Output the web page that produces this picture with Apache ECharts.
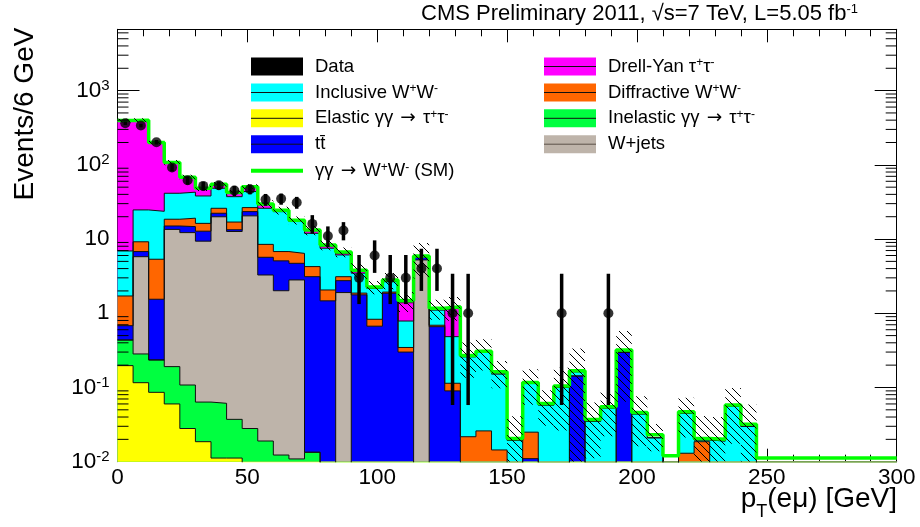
<!DOCTYPE html>
<html><head><meta charset="utf-8">
<script src="https://cdn.jsdelivr.net/npm/echarts@6/dist/echarts.min.js"></script>
<style>html,body{margin:0;padding:0;background:#fff}#c{width:920px;height:527px}</style>
</head><body><div id="c"></div>
<script>
// ---- binning: 6 GeV bins from 0 to 300 GeV ----
const binWidth = 6;
const nBins = 50;
// ---- stacked MC components (events per bin), bins beyond the array are empty ----
const elasticTauTau = [0.197,0.116,0.086,0.060,0.028,0.0186,0.0112,0.0112];
const inelasticTauTau = [0.239,0.167,0.149,0.131,0.080,0.045,0.050,0.026,0.028,0.019,0.0123,0.0109,0.0134];
const wJets = [0,5.5,0,13.3,12.1,9.3,19.9,12.6,20.5,3.26,2.0,2.8,0,0,1.9,0,0,0,0,5.23];
const ttbar = [0.244,1.0,1.31,1.5,2.5,3.4,2.3,0.7,2.9,2.4,3.07,1.9,3.1,1.47,0.85,1.77,0.67,1.86,0.30,0.46,0.66,0.09,0,0,0,0,0.011,0,0,0.143,0,0,0.30];
const diffractiveWW = [1.03,2.4,3.8,3.5,4.4,3.5,3.7,3.6,3.1,2.8,1.7,1.7,1.14,0.59,0.36,0.10,0.16,0.07,0.046,0,0.03,0.024,0.0217,0.026,0.0144,0,0.014,0,0,0,0,0,0,0,0,0,0.013,0.0186];
const inclusiveWW = [5.2,15.5,18.3,22.9,23.7,21.8,22.4,20.3,17.1,17.5,16.6,10.8,7.7,5.46,3.0,1.6,1.34,0.74,0.44,0,0.42,0.37,0.238,0.272,0.138,0.0195,0.089,0.058,0.10,0.02,0.035,0.053,0,0.044,0.021,0,0.032,0.001,0.019,0.056,0.030];
const drellYanTauTau = [388,375,176,66,25,10,6,5,7,3.5,0.8,0.5,1.0,0.5,0.3,0.18,0,0,0.6,0,0,0.69];
const ggWW = [0.1,0.1,0.1,0.15,0.2,0.2,0.2,0.2,0.2,0.2,0.2,0.2,0.3,0.3,0.3,0.15,0.09,0.13,0.1,0.2,0.06,0.05,0.01,0.01,0.01,0.001,0.003,0.003,0.005,0.005,0.002,0.002,0.02,0.002,0.002,0.012,0.002,0.001,0.001,0.002,0.002];
// ---- relative uncertainty of the total prediction (hatched band) ----
const relUnc = [0.06,0.06,0.06,0.08,0.08,0.08,0.08,0.08,0.08,0.12,0.12,0.12,0.15,0.15,0.15,0.25,0.2,0.25,0.3,0.5,0.3,0.35,0.5,0.45,0.4,1.0,0.5,0.5,0.75,1.0,0.7,0.6,0.8,0.65,0.4,0,0.55,1.0,1.0,0.7,0.85];
// ---- data (events per bin) and error bar ends ----
const dataCounts = [363,338,202,92,62,52,53,45,47,34,35,31,16,11,13,3,6,3,3,4,4,1,1,0,0,0,0,0,1,0,0,1];
const dataHigh = [382,357,216,102,70,59,60,52,54,40.5,41,37,21,14.8,16.9,6.1,9.6,6.1,6.1,7.4,7.4,3.4,3.4,0,0,0,0,0,3.4,0,0,3.4];
const dataLow = [344,320,188,82,54,45,46,38,40,28,29,25.6,11.8,7.8,9.6,1.33,3.5,1.33,1.33,2.0,2.0,0.058,0.058,0,0,0,0,0,0.058,0,0,0.058];
// ---- axis ----
const xTicks = [0,50,100,150,200,250,300];
const yMin = 0.01, yMax = 6700;

const FONT = 'Liberation Sans, Arial, Helvetica, sans-serif';
const stackOrder = [elasticTauTau, inelasticTauTau, wJets, ttbar, diffractiveWW, inclusiveWW, drellYanTauTau, ggWW];
const fillColors = ['#ffff00','#00ff40','#beb4aa','#0000ff','#ff6600','#00ffff','#ff00ff'];

function v(a, i) { return i < a.length ? a[i] : 0; }
const cum = [];
for (let k = 0; k < stackOrder.length; k++) {
  const row = [];
  for (let i = 0; i < nBins; i++) row.push((k ? cum[k-1][i] : 0) + v(stackOrder[k], i));
  cum.push(row);
}
function stepData(row, floor) {
  const d = [];
  for (let i = 0; i <= nBins; i++) {
    const val = row[Math.min(i, nBins - 1)];
    d.push([i * binWidth, Math.max(val, floor)]);
  }
  return d;
}

const series = [];
for (let k = 6; k >= 0; k--) {
  series.push({
    type: 'line', step: 'end', data: stepData(cum[k], 1e-4), symbol: 'none', z: 2,
    lineStyle: { color: '#111', width: 1 },
    areaStyle: { color: fillColors[k], opacity: 1, origin: 'start' },
    animation: false, silent: true, clip: true
  });
}
// total incl. gamma gamma -> WW : thick green line
series.push({
  type: 'line', step: 'end', data: stepData(cum[7], 0.0112),
  symbol: 'none', z: 3, lineStyle: { color: '#00ff00', width: 3.5 }, animation: false, silent: true, clip: false
});

// hatch pattern
const pc = document.createElement('canvas');
pc.width = 8; pc.height = 8;
const g = pc.getContext('2d');
g.strokeStyle = '#000'; g.lineWidth = 1;
g.beginPath(); g.moveTo(-1, -1); g.lineTo(9, 9); g.moveTo(-1, 7); g.lineTo(1, 9); g.moveTo(7, -1); g.lineTo(9, 1); g.stroke();
const hatch = { image: pc, repeat: 'repeat' };

const bandData = [];
for (let i = 0; i < relUnc.length; i++) {
  const t = cum[7][i];
  if (t > 0 && relUnc[i] > 0) bandData.push([i * binWidth, (i + 1) * binWidth, Math.max(t * (1 - relUnc[i]), yMin), t * (1 + relUnc[i])]);
}
series.push({
  type: 'custom', z: 4, silent: true, animation: false, clip: true,
  encode: { x: [0, 1], y: [2, 3] }, data: bandData,
  renderItem(params, api) {
    const p0 = api.coord([api.value(0), api.value(3)]);
    const p1 = api.coord([api.value(1), api.value(2)]);
    return { type: 'rect', shape: { x: p0[0], y: p0[1], width: p1[0] - p0[0], height: p1[1] - p0[1] }, style: { fill: hatch, stroke: null } };
  }
});

const pts = [], errs = [];
for (let i = 0; i < dataCounts.length; i++) {
  if (dataCounts[i] > 0) {
    const xc = (i + 0.5) * binWidth;
    pts.push([xc, dataCounts[i]]);
    errs.push([xc, Math.max(dataLow[i], yMin), dataHigh[i]]);
  }
}
series.push({
  type: 'custom', z: 5, silent: true, animation: false,
  encode: { x: 0, y: [1, 2] }, data: errs,
  renderItem(params, api) {
    const a = api.coord([api.value(0), api.value(1)]);
    const b = api.coord([api.value(0), api.value(2)]);
    return { type: 'line', shape: { x1: a[0], y1: a[1], x2: b[0], y2: b[1] }, style: { stroke: '#000', lineWidth: 3.5 } };
  }
});
series.push({ type: 'scatter', z: 6, data: pts, symbol: 'circle', symbolSize: 10, itemStyle: { color: '#000' }, silent: true, animation: false });

// y minor ticks (2..9 x 10^n) on left and right frame
const minorY = [];
for (let e = -2; e <= 3; e++) for (let m = 2; m <= 9; m++) { const val = m * Math.pow(10, e); if (val < yMax) minorY.push([0, val]); }
series.push({
  type: 'custom', z: 7, silent: true, animation: false, data: minorY, encode: { x: 0, y: 1 },
  renderItem(params, api) {
    const l = api.coord([0, api.value(1)]);
    const r = api.coord([300, api.value(1)]);
    return { type: 'group', children: [
      { type: 'line', shape: { x1: l[0], y1: l[1], x2: l[0] + 11, y2: l[1] }, style: { stroke: '#000', lineWidth: 1 } },
      { type: 'line', shape: { x1: r[0], y1: r[1], x2: r[0] - 11, y2: r[1] }, style: { stroke: '#000', lineWidth: 1 } }
    ] };
  }
});

function xAx(pos) {
  return {
    type: 'value', min: 0, max: 300, interval: 50, position: pos,
    axisLine: { show: true, onZero: false, lineStyle: { color: '#000', width: 1 } },
    axisTick: { show: true, inside: true, length: 13, lineStyle: { color: '#000' } },
    minorTick: { show: true, splitNumber: 5, length: 7, lineStyle: { color: '#000' } },
    axisLabel: { show: pos === 'bottom', fontSize: 22.5, color: '#000', fontFamily: FONT, margin: 5,
      formatter: v => (xTicks.indexOf(v) >= 0 ? String(v) : '') },
    splitLine: { show: false }, minorSplitLine: { show: false }
  };
}
function yAx(pos) {
  return {
    type: 'log', logBase: 10, min: yMin, max: yMax, position: pos,
    axisLine: { show: true, onZero: false, lineStyle: { color: '#000', width: 1 } },
    axisTick: { show: true, inside: true, length: 22, lineStyle: { color: '#000' } },
    axisLabel: { show: pos === 'left', fontSize: 22.5, color: '#000', fontFamily: FONT, margin: 8,
      formatter: val => {
        const e = Math.log10(val), r = Math.round(e);
        if (Math.abs(e - r) > 1e-6) return '';
        if (r === 0) return '1';
        if (r === 1) return '10';
        return '10{sup|' + r + '}';
      },
      rich: { sup: { fontSize: 15, fontFamily: FONT, color: '#000', verticalAlign: 'top', padding: [0, 0, 10, 0] } }
    },
    splitLine: { show: false }
  };
}

// legend entries
const legendLeft = [
  { label: 'Data', color: '#000', line: null },
  { label: 'Inclusive W{sup|+}W{sup|-}', color: '#00ffff', line: '#111' },
  { label: 'Elastic γγ {arr|→} τ{sup|+}τ{sup|-}', color: '#ffff00', line: '#111' },
  { label: 'tt̄', color: '#0000ff', line: '#111' },
  { label: 'γγ {arr|→} W{sup|+}W{sup|-} (SM)', color: null, line: '#00ff00' }
];
const legendRight = [
  { label: 'Drell-Yan τ{sup|+}τ{sup|-}', color: '#ff00ff', line: '#111' },
  { label: 'Diffractive W{sup|+}W{sup|-}', color: '#ff6600', line: '#111' },
  { label: 'Inelastic γγ {arr|→} τ{sup|+}τ{sup|-}', color: '#00ff40', line: '#111' },
  { label: 'W+jets', color: '#beb4aa', line: '#5a5048' }
];
const rowY = [66.5, 92.5, 118.3, 144.2, 170.7];
const graphics = [];
function addLegend(items, bx, tx) {
  items.forEach((it, j) => {
    const cy = rowY[j];
    if (it.color) graphics.push({ type: 'rect', shape: { x: bx, y: cy - 9, width: 52, height: 18 }, style: { fill: it.color } });
    if (it.line) graphics.push({ type: 'line', shape: { x1: bx, y1: cy, x2: bx + 52, y2: cy }, style: { stroke: it.line, lineWidth: it.color ? 1 : 4 } });
    graphics.push({ type: 'text', x: tx, y: cy, style: { text: it.label, fontSize: 18.5, fontFamily: FONT, fill: '#000', align: 'left', verticalAlign: 'middle',
      rich: { sup: { fontSize: 12, fontFamily: FONT, verticalAlign: 'top', padding: [0, 0, 6, 0] },
              arr: { fontSize: 18.5, fontFamily: 'DejaVu Sans', padding: [0, 2, 0, 2] } } } });
  });
}
addLegend(legendLeft, 251, 315);
addLegend(legendRight, 544, 608);
graphics.push({ type: 'text', x: 858, y: 14, style: { text: 'CMS Preliminary 2011, √s=7 TeV, L=5.05 fb{sup|-1}', fontSize: 22, fontFamily: FONT, fill: '#000', align: 'right', verticalAlign: 'middle',
  rich: { sup: { fontSize: 13, fontFamily: FONT, verticalAlign: 'top', padding: [0, 0, 8, 0] } } } });
graphics.push({ type: 'text', x: 25, y: 114, rotation: Math.PI / 2, style: { text: 'Events/6 GeV', fontSize: 28, fontFamily: FONT, fill: '#000', align: 'center', verticalAlign: 'middle' } });
graphics.push({ type: 'text', x: 897, y: 499, style: { text: 'p{sub|T}(eμ) [GeV]', fontSize: 28, fontFamily: FONT, fill: '#000', align: 'right', verticalAlign: 'middle',
  rich: { sub: { fontSize: 18, fontFamily: FONT, verticalAlign: 'bottom', padding: [26, 0, 0, 0] } } } });

const chart = echarts.init(document.getElementById('c'), null, { renderer: 'canvas' });
chart.setOption({
  animation: false,
  backgroundColor: '#fff',
  grid: { left: 117.5, right: 23.3, top: 29.3, bottom: 65.3, containLabel: false },
  xAxis: [xAx('bottom'), xAx('top')],
  yAxis: [yAx('left'), yAx('right')],
  series: series,
  graphic: graphics
});
</script></body></html>
